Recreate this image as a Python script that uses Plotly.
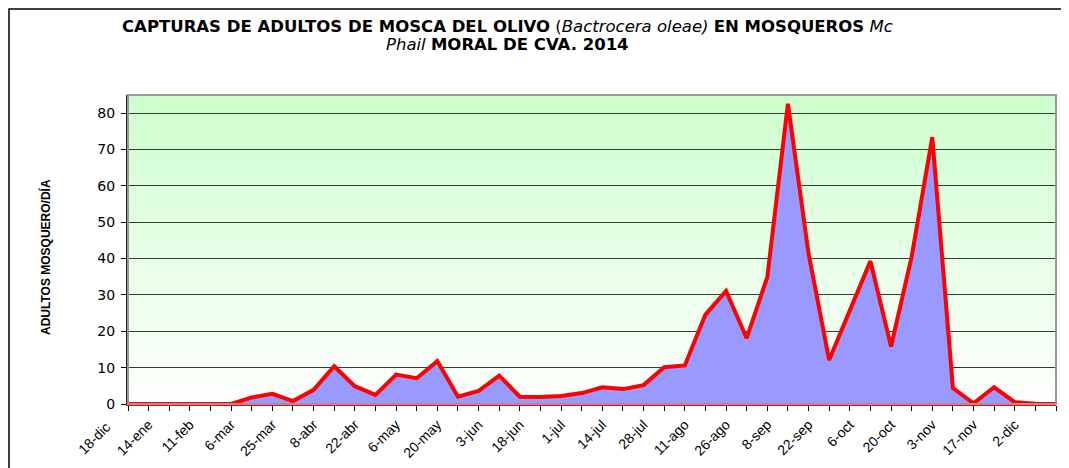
import plotly.graph_objects as go

# ---- data ----
values = [0, 0, 0, 0, 0, 0, 1.8, 2.8, 0.8, 3.9, 10.4, 4.9, 2.5, 8.1, 7.1, 11.8,
          2.0, 3.6, 7.8, 2.0, 1.9, 2.2, 3.0, 4.6, 4.1, 5.2, 10.1, 10.6, 24.6,
          31.1, 18.1, 34.9, 82.6, 41.4, 12.1, 25.7, 39.3, 15.8, 40.5, 73.4,
          4.4, 0.2, 4.6, 0.5, 0.1, 0]
tick_labels = ["18-dic", "14-ene", "11-feb", "6-mar", "25-mar", "8-abr", "22-abr",
               "6-may", "20-may", "3-jun", "18-jun", "1-jul", "14-jul", "28-jul",
               "11-ago", "26-ago", "8-sep", "22-sep", "6-oct", "20-oct", "3-nov",
               "17-nov", "2-dic"]
y_ticks = [0, 10, 20, 30, 40, 50, 60, 70, 80]
title_line1 = ("<b>CAPTURAS DE ADULTOS DE MOSCA DEL OLIVO</b> (<i>Bactrocera oleae)</i> "
               "<b>EN MOSQUEROS</b> <i>Mc</i>")
title_line2 = "<i>Phail</i> <b>MORAL DE CVA. 2014</b>"
y_title = "<b>ADULTOS MOSQUERO/DÍA</b>"

FONT = "Liberation Sans, Arial, sans-serif"
WIDE = "DejaVu Sans, Verdana, sans-serif"
OFF = 8  # page body margin
W, H = 1069 - OFF, 468 - OFF
L, R, T, B = 128 - OFF, 13, 95 - OFF, 64
pw, ph = W - L - R, H - T - B


def px_x(page_x):
    return (page_x - OFF - L) / pw


def px_y(page_y):
    return (T + ph - (page_y - OFF)) / ph


n = len(values)
x = list(range(n))
xmin, xmax = 0, n - 1

tickvals = list(range(n))
ticktext = []
for i in range(n):
    j = (i + 1) // 2
    ticktext.append(tick_labels[j] if (i % 2 == 1 and j < len(tick_labels)) else "")

fig = go.Figure()
fig.add_trace(go.Scatter(
    x=x, y=values, mode="lines", fill="tozeroy",
    fillcolor="#9999FF", line=dict(color="#FF0000", width=4),
    hoverinfo="x+y", showlegend=False))

shapes = []
# gradient background (green at top to white at bottom)
nb = 100
for k in range(nb):
    f = (k + 0.5) / nb
    r = int(round(255 - (255 - 204) * f))
    shapes.append(dict(type="rect", xref="x domain", yref="y domain",
                       x0=0, x1=1, y0=k / nb, y1=(k + 1) / nb + 0.002,
                       fillcolor=f"rgb({r},255,{r})", line=dict(width=0),
                       layer="below"))
# plot area border (gray)
shapes.append(dict(type="rect", xref="x domain", yref="y domain",
                   x0=0, x1=1, y0=0, y1=1, line=dict(color="#999999", width=2),
                   fillcolor="rgba(0,0,0,0)", layer="above"))
# chart outer border
shapes.append(dict(type="rect", xref="paper", yref="paper",
                   x0=px_x(9), x1=px_x(1080), y0=px_y(480), y1=px_y(9),
                   line=dict(color="black", width=1.5),
                   fillcolor="rgba(0,0,0,0)", layer="above"))

annotations = [
    dict(text=title_line1, xref="paper", yref="paper", x=px_x(507), y=px_y(27),
         showarrow=False, xanchor="center", yanchor="middle",
         font=dict(family=WIDE, size=16.5, color="black")),
    dict(text=title_line2, xref="paper", yref="paper", x=px_x(507), y=px_y(45),
         showarrow=False, xanchor="center", yanchor="middle",
         font=dict(family=WIDE, size=16.5, color="black")),
    dict(text=y_title, xref="paper", yref="paper",
         x=px_x(45), y=px_y(257), textangle=-90,
         showarrow=False, font=dict(family=FONT, size=12, color="black"),
         xanchor="center", yanchor="middle"),
    dict(text=tick_labels[0], xref="paper", yref="paper",
         x=(-1 - xmin) / (xmax - xmin), y=0, textangle=-45, showarrow=False,
         font=dict(family=FONT, size=14, color="black"),
         xanchor="right", yanchor="top", xshift=9, yshift=-12),
]

fig.update_layout(
    width=W, height=H,
    margin=dict(l=L, r=R, t=T, b=B, pad=0),
    paper_bgcolor="white", plot_bgcolor="white",
    shapes=shapes, annotations=annotations,
    xaxis=dict(range=[xmin, xmax], tickmode="array", tickvals=tickvals,
               ticktext=ticktext, tickangle=-45, ticks="outside", ticklen=5,
               tickcolor="black", tickwidth=1, showgrid=False, zeroline=False,
               showline=True, linecolor="#FF0000", linewidth=2, automargin=False,
               tickfont=dict(family=FONT, size=14, color="black"), fixedrange=True),
    yaxis=dict(range=[0, 85], tickmode="array", tickvals=y_ticks,
               ticks="outside", ticklen=5, tickcolor="black", tickwidth=1,
               showgrid=True, gridcolor="#3a3a3a", gridwidth=1, zeroline=False,
               showline=True, linecolor="#222222", linewidth=2, automargin=False,
               ticklabelstandoff=3,
               tickfont=dict(family=WIDE, size=14, color="black"), fixedrange=True),
)

fig.write_html("out.html")
